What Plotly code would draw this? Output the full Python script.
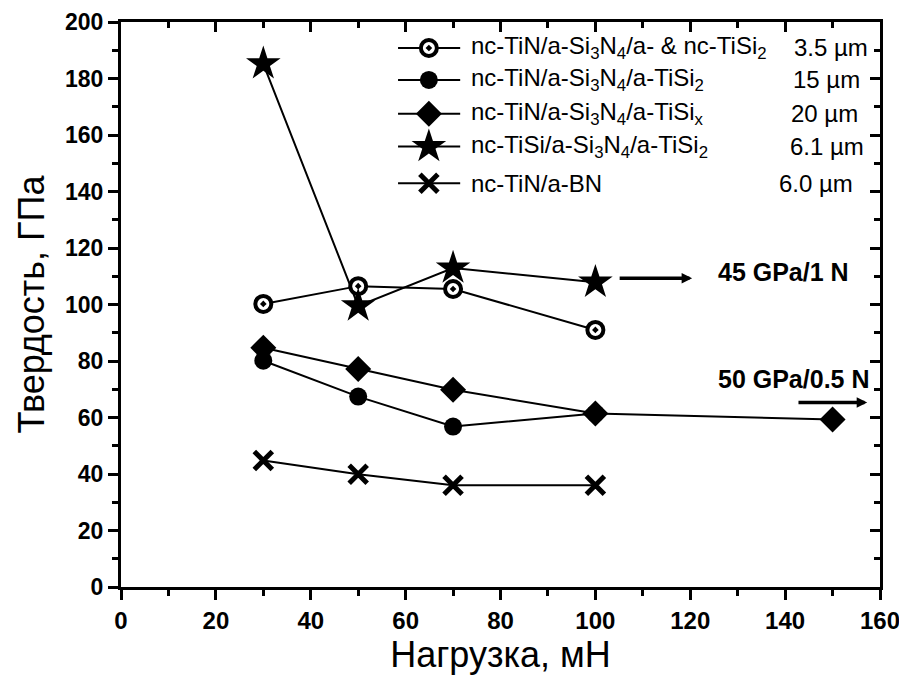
import plotly.graph_objects as go

# ---- data ----
load = [30, 50, 70, 100]
s1_name = "nc-TiN/a-Si<sub>3</sub>N<sub>4</sub>/a- &amp; nc-TiSi<sub>2</sub>"
s1_y = [100.2, 106.5, 105.5, 91.0]
s2_name = "nc-TiN/a-Si<sub>3</sub>N<sub>4</sub>/a-TiSi<sub>2</sub>"
s2_y = [80.1, 67.4, 56.8, 61.4]
s3_name = "nc-TiN/a-Si<sub>3</sub>N<sub>4</sub>/a-TiSi<sub>x</sub>"
s3_x = [30, 50, 70, 100, 150]
s3_y = [84.7, 77.2, 69.8, 61.4, 59.3]
s4_name = "nc-TiSi/a-Si<sub>3</sub>N<sub>4</sub>/a-TiSi<sub>2</sub>"
s4_y = [185.2, 99.5, 112.9, 107.9]
s5_name = "nc-TiN/a-BN"
s5_y = [44.8, 39.9, 36.0, 36.0]
thickness = ["3.5 µm", "15 µm", "20 µm", "6.1 µm", "6.0 µm"]

x_title = "Нагрузка, мН"
y_title = "Твердость, ГПа"
note1 = "45 GPa/1 N"
note2 = "50 GPa/0.5 N"

FONT = "Liberation Sans, Arial, sans-serif"

styles = [
    dict(symbol="circle-dot", size=16, color="white", line=dict(color="black", width=4)),
    dict(symbol="circle", size=18, color="black", line=dict(color="black", width=0)),
    dict(symbol="diamond", size=20, color="black", line=dict(color="black", width=0)),
    dict(symbol="star", size=26, color="black", line=dict(color="black", width=0)),
    dict(symbol="x-thin", size=18, color="black", line=dict(color="black", width=5)),
]
series = [
    (s1_name, load, s1_y),
    (s2_name, load, s2_y),
    (s3_name, s3_x, s3_y),
    (s4_name, load, s4_y),
    (s5_name, load, s5_y),
]

fig = go.Figure()
for (name, xs, ys), st in zip(series, styles):
    fig.add_trace(go.Scatter(
        x=xs, y=ys, mode="lines+markers", name=name, showlegend=False,
        line=dict(color="black", width=2), marker=st, cliponaxis=False))

# ---- hand-made legend ----
leg_y = [190.8, 179.5, 167.5, 155.9, 142.9]
leg_x0, leg_xm, leg_x1 = 58.4, 64.9, 71.5
leg_tx = 73.4
thick_x = [157.8, 156.2, 155.8, 157.0, 154.7]
for i, ((name, _, _), st) in enumerate(zip(series, styles)):
    fig.add_trace(go.Scatter(
        x=[leg_x0, leg_x1], y=[leg_y[i], leg_y[i]], mode="lines",
        showlegend=False, hoverinfo="skip", line=dict(color="black", width=2)))
    fig.add_trace(go.Scatter(
        x=[leg_xm], y=[leg_y[i]], mode="markers",
        showlegend=False, hoverinfo="skip", marker=st, cliponaxis=False))
    fig.add_annotation(x=leg_tx, y=leg_y[i], xref="x", yref="y", text=name,
                       showarrow=False, xanchor="left", yanchor="middle",
                       font=dict(family=FONT, size=24, color="black"))
    fig.add_annotation(x=thick_x[i], y=leg_y[i], xref="x", yref="y", text=thickness[i],
                       showarrow=False, xanchor="right", yanchor="middle",
                       font=dict(family=FONT, size=24, color="black"))

# invisible trace so that the mirrored top/right axes are drawn
fig.add_trace(go.Scatter(x=[None], y=[None], xaxis="x2", yaxis="y2",
                         showlegend=False, hoverinfo="skip"))

# ---- arrows and notes ----
fig.add_annotation(x=120.4, y=109.3, ax=104.8, ay=109.3, xref="x", yref="y",
                   axref="x", ayref="y", showarrow=True, arrowhead=2, arrowsize=0.6,
                   arrowwidth=3.5, arrowcolor="black", text="")
fig.add_annotation(x=157.3, y=65.3, ax=142.5, ay=65.3, xref="x", yref="y",
                   axref="x", ayref="y", showarrow=True, arrowhead=2, arrowsize=0.6,
                   arrowwidth=3.5, arrowcolor="black", text="")
fig.add_annotation(x=125.4, y=111.5, xref="x", yref="y", text="<b>%s</b>" % note1,
                   showarrow=False, xanchor="left", yanchor="middle",
                   font=dict(family=FONT, size=25, color="black"))
fig.add_annotation(x=125.4, y=73.7, xref="x", yref="y", text="<b>%s</b>" % note2,
                   showarrow=False, xanchor="left", yanchor="middle",
                   font=dict(family=FONT, size=25, color="black"))

axis_common = dict(showline=True, linewidth=3, linecolor="black", showgrid=False,
                   zeroline=False, tickwidth=3, tickcolor="black", ticklen=10,
                   dtick=20, tick0=0, automargin=False, ticklabeloverflow="allow")
# page body has an 8px default margin, so the figure is 8px smaller and offsets are reduced
fig.update_layout(
    width=899, height=668,
    margin=dict(l=113, r=27, t=14, b=89),
    paper_bgcolor="white", plot_bgcolor="white",
    font=dict(family=FONT, color="black"),
    xaxis=dict(range=[0, 160], ticks="outside", **axis_common,
               minor=dict(ticks="outside", dtick=10, ticklen=6, tickwidth=3, tickcolor="black"),
               tickfont=dict(size=24, family=FONT), tickprefix="<b>", ticksuffix="</b>",
               title=dict(text=x_title, font=dict(size=36, family=FONT), standoff=6)),
    yaxis=dict(range=[0, 200], ticks="outside", **axis_common,
               minor=dict(ticks="outside", dtick=10, ticklen=6, tickwidth=3, tickcolor="black"),
               tickfont=dict(size=23, family=FONT), tickprefix="<b>", ticksuffix="</b>",
               title=dict(text=y_title, font=dict(size=36, family=FONT), standoff=10)),
    xaxis2=dict(range=[0, 160], overlaying="x", side="top", anchor="y2", ticks="inside",
                showticklabels=False, **axis_common,
                minor=dict(ticks="inside", dtick=10, ticklen=6, tickwidth=3, tickcolor="black")),
    yaxis2=dict(range=[0, 200], overlaying="y", side="right", anchor="x2", ticks="inside",
                showticklabels=False, **axis_common,
                minor=dict(ticks="inside", dtick=10, ticklen=6, tickwidth=3, tickcolor="black")),
)

fig.write_html("out.html")
